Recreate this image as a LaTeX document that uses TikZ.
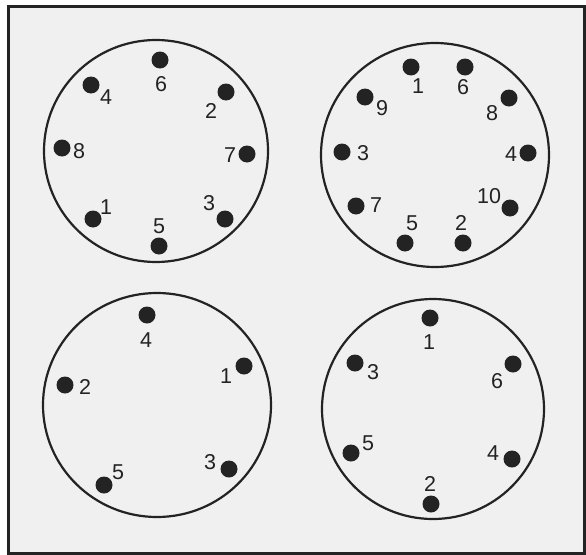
\documentclass[tikz,border=0pt]{standalone}
\usepackage{fontspec}
\setmainfont{Liberation Sans}
\definecolor{paper}{RGB}{240,240,240}
\definecolor{ink}{RGB}{35,35,35}
\tikzset{
  pin/.style={circle,fill=ink,inner sep=0pt,minimum size=17pt},
  num/.style={inner sep=0pt,text=ink,font=\fontsize{21.5}{21.5}\selectfont},
  ring/.style={draw=ink,line width=2.2pt},
}
\begin{document}
\begin{tikzpicture}[x=1pt,y=-1pt]
\useasboundingbox (0,0) rectangle (586,554);
\fill[white] (0,0) rectangle (586,554);
\node[draw=ink,fill=paper,line width=3pt,inner sep=0pt,minimum width=576pt,minimum height=547pt,anchor=north west] (frame) at (6.5,4.5) {};
% circle 1
\draw[ring] (156,151) ellipse (112 and 111);
\node[pin] (a6) at (160,60) {}; \node[num] (la6) at (161,84) {6};
\node[pin] (a4) at (91,85) {}; \node[num] (la4) at (106,97) {4};
\node[pin] (a2) at (226,92) {}; \node[num] (la2) at (211,111) {2};
\node[pin] (a8) at (62,148) {}; \node[num] (la8) at (79,151) {8};
\node[pin] (a7) at (247,154) {}; \node[num] (la7) at (230,155) {7};
\node[pin] (a1) at (93,219) {}; \node[num] (la1) at (106,207) {1};
\node[pin] (a3) at (225,219) {}; \node[num] (la3) at (209,203) {3};
\node[pin] (a5) at (159,246) {}; \node[num] (la5) at (159,226) {5};
% circle 2
\draw[ring] (435,155) ellipse (114 and 112);
\node[pin] (b1) at (411,67) {}; \node[num] (lb1) at (418,86) {1};
\node[pin] (b6) at (465,67) {}; \node[num] (lb6) at (463,87) {6};
\node[pin] (b9) at (365,97) {}; \node[num] (lb9) at (382,108) {9};
\node[pin] (b8) at (509,98) {}; \node[num] (lb8) at (492,113) {8};
\node[pin] (b3) at (342,152) {}; \node[num] (lb3) at (363,153) {3};
\node[pin] (b4) at (528,153) {}; \node[num] (lb4) at (511,154) {4};
\node[pin] (b7) at (356,206) {}; \node[num] (lb7) at (376,205) {7};
\node[pin] (b10) at (510,208) {}; \node[num] (lb10) at (489,196) {10};
\node[pin] (b5) at (405,243) {}; \node[num] (lb5) at (412,223) {5};
\node[pin] (b2) at (463,243) {}; \node[num] (lb2) at (461,223) {2};
% circle 3
\draw[ring] (157,405) ellipse (114 and 112);
\node[pin] (c4) at (147,315) {}; \node[num] (lc4) at (146,340) {4};
\node[pin] (c1) at (244,366) {}; \node[num] (lc1) at (226,376) {1};
\node[pin] (c2) at (65,385) {}; \node[num] (lc2) at (85,387) {2};
\node[pin] (c3) at (229,469) {}; \node[num] (lc3) at (210,462) {3};
\node[pin] (c5) at (104,485) {}; \node[num] (lc5) at (118,472) {5};
% circle 4
\draw[ring] (433,409) ellipse (111 and 110);
\node[pin] (d1) at (430,318) {}; \node[num] (ld1) at (429,342) {1};
\node[pin] (d3) at (355,363) {}; \node[num] (ld3) at (373,372) {3};
\node[pin] (d6) at (513,364) {}; \node[num] (ld6) at (497,381) {6};
\node[pin] (d5) at (351,453) {}; \node[num] (ld5) at (368,443) {5};
\node[pin] (d4) at (512,459) {}; \node[num] (ld4) at (493,453) {4};
\node[pin] (d2) at (431,504) {}; \node[num] (ld2) at (430,484) {2};
\end{tikzpicture}
\end{document}
